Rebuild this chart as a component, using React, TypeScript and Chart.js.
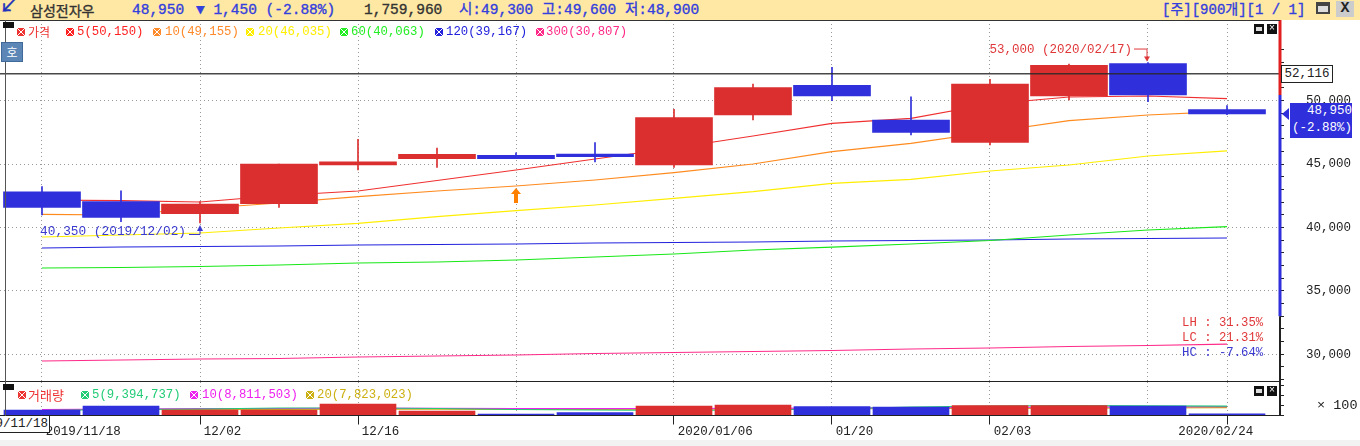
import React, { useEffect, useRef } from "react";
import { Chart, registerables } from "chart.js";

Chart.register(...registerables);

const MONO = '"Liberation Mono", "Noto Sans CJK KR", monospace';
const KR = '"Noto Sans CJK KR", "Liberation Mono", sans-serif';

const dates = ["2019/11/18", "", "12/02", "", "12/16", "", "", "", "2020/01/06", "", "01/20", "", "02/03", "", "", "2020/02/24"];
const gridIdx = [0, 2, 4, 6, 8, 10, 12, 14, 15];
const labelPad = [11, 0, 6, 0, 6, 0, 0, 0, 11, 0, 6, 0, 6, 0, 0, 0];
const labelPadEnd = [0, 0, 0, 0, 0, 0, 0, 0, 0, 0, 0, 0, 0, 0, 0, 1];
const priceTicks = [28000, 29000, 30000, 31000, 32000, 33000, 34000, 35000, 36000, 37000, 38000, 39000, 40000, 41000, 42000, 43000, 44000, 45000, 46000, 47000, 48000, 49000, 50000, 51000, 52000, 53000, 54000];
const volTicks = [0, 10000000, 20000000, 30000000];

const opens = [42818, 42030, 41084, 41872, 44923, 45420, 45688, 45794, 44923, 48865, 51206, 48470, 46712, 50362, 52924, 49300];
const closes = [41588, 40800, 41849, 45002, 45183, 45766, 45420, 45577, 48652, 51017, 50362, 47501, 51308, 52782, 50441, 48950];
const highs = [43213, 42897, 42030, 45002, 46949, 46263, 45892, 46681, 49314, 51308, 52625, 50307, 51679, 52885, 53000, 49600];
const lows = [40981, 40454, 40350, 41588, 44529, 44742, 45420, 45160, 44742, 48470, 49992, 47288, 46500, 50047, 49913, 48900];

const ma5 = [42164, 42109, 42006, 42519, 42873, 43701, 44529, 45396, 46263, 47209, 48210, 48604, 49732, 50284, 50362, 50150];
const ma10 = [41037, 40982, 41494, 41927, 42424, 42873, 43268, 43741, 44316, 45002, 45972, 46634, 47524, 48415, 48865, 49155];
const ma20 = [39247, 39405, 39563, 39957, 40327, 40847, 41321, 41770, 42298, 42818, 43480, 43795, 44450, 44923, 45633, 46035];
const ma60 = [36804, 36843, 36922, 37040, 37198, 37276, 37434, 37671, 37907, 38223, 38456, 38696, 38971, 39405, 39799, 40063];
const ma120 = [38380, 38459, 38498, 38538, 38616, 38656, 38696, 38774, 38813, 38853, 38932, 38971, 39011, 39090, 39129, 39167];
const ma300 = [29472, 29551, 29629, 29669, 29788, 29866, 29945, 30063, 30142, 30221, 30300, 30418, 30497, 30615, 30694, 30807];
const hline = 52116;

const volumes = [5500000, 9500000, 5500000, 5500000, 11500000, 4500000, 1500000, 3000000, 9500000, 10500000, 9000000, 8500000, 10000000, 10000000, 9500000, 1759960];
const vma5 = [5000000, 6000000, 6500000, 7500000, 7500000, 7000000, 6000000, 5500000, 5000000, 5500000, 6500000, 8500000, 9500000, 9800000, 9600000, 9394737];
const vma10 = [6000000, 6500000, 6800000, 7000000, 7300000, 7200000, 7000000, 6800000, 7000000, 7200000, 7500000, 7800000, 8000000, 8300000, 8600000, 8811503];
const vma20 = [6000000, 6000000, 6000000, 6100000, 6300000, 6400000, 6200000, 6000000, 6300000, 6500000, 6700000, 7000000, 7200000, 7400000, 7600000, 7823023];

const RED = "#db2e2e";
const BLUE = "#2f2fdb";
const X_MIN = -42 / 79;
const X_MAX = (1280 - 42) / 79;

const xy = (arr: number[]) => arr.map((y, x) => ({ x, y }));
const range = (a: number[], b: number[]) => a.map((v, x) => ({ x, y: [v, b[x]] }));
const upColor = (ctx: any) => (closes[ctx.dataIndex] >= opens[ctx.dataIndex] ? RED : BLUE);
const line = (label: string, data: number[], color: string, order = 5) => ({
  type: "line" as const, label, data: xy(data), borderColor: color, borderWidth: 1.2,
  pointRadius: 0, tension: 0, order,
});

const axisLine = {
  id: "axisLine",
  afterDraw(chart: any) {
    const c = chart.ctx, y = chart.scales.y, a = chart.chartArea;
    c.save();
    c.lineWidth = 3;
    c.strokeStyle = "#e02020";
    c.beginPath(); c.moveTo(a.right, a.top); c.lineTo(a.right, y.getPixelForValue(50440)); c.stroke();
    c.strokeStyle = "#2f2fdb";
    c.beginPath(); c.moveTo(a.right, y.getPixelForValue(50440)); c.lineTo(a.right, y.getPixelForValue(33000)); c.stroke();
    c.lineWidth = 1;
    c.strokeStyle = "#222";
    c.beginPath(); c.moveTo(a.right - 0.5, y.getPixelForValue(33000)); c.lineTo(a.right - 0.5, a.bottom); c.stroke();
    c.restore();
  },
};

const marks = {
  id: "marks",
  afterDraw(chart: any) {
    const c = chart.ctx, x = chart.scales.x, y = chart.scales.y;
    c.save();
    c.textBaseline = "middle";
    const lx = x.getPixelForValue(2), ly = y.getPixelForValue(lows[2]);
    c.fillStyle = "#3a3ad0"; c.strokeStyle = "#3a3ad0"; c.lineWidth = 1;
    c.textAlign = "right";
    c.font = `12.8px ${MONO}`;
    c.fillText("40,350 (2019/12/02)", lx - 14, ly + 9);
    c.beginPath(); c.moveTo(lx - 11, ly + 11.5); c.lineTo(lx, ly + 11.5); c.lineTo(lx, ly + 6); c.stroke();
    c.beginPath(); c.moveTo(lx, ly + 2); c.lineTo(lx + 3, ly + 8); c.lineTo(lx - 3, ly + 8); c.fill();
    const hx = x.getPixelForValue(14), hy = y.getPixelForValue(highs[14]);
    c.fillStyle = "#e0383a"; c.strokeStyle = "#e0383a";
    c.font = `12.5px ${MONO}`;
    c.fillText("53,000 (2020/02/17)", hx - 16, hy - 13);
    c.beginPath(); c.moveTo(hx - 14, hy - 13.5); c.lineTo(hx - 1, hy - 13.5); c.lineTo(hx - 1, hy - 5); c.stroke();
    c.beginPath(); c.moveTo(hx - 1, hy - 1); c.lineTo(hx + 2, hy - 6); c.lineTo(hx - 4, hy - 6); c.fill();
    const ax = x.getPixelForValue(6), ay = y.getPixelForValue(ma10[6]);
    c.fillStyle = "#ff8000";
    c.beginPath();
    c.moveTo(ax, ay + 2); c.lineTo(ax + 5, ay + 8); c.lineTo(ax + 2, ay + 8); c.lineTo(ax + 2, ay + 17);
    c.lineTo(ax - 2, ay + 17); c.lineTo(ax - 2, ay + 8); c.lineTo(ax - 5, ay + 8); c.closePath(); c.fill();
    c.restore();
  },
};

const xScale = (showLabels: boolean) => ({
  type: "linear" as const,
  min: X_MIN,
  max: X_MAX,
  bounds: "data",
  offset: false,
  afterBuildTicks(s: any) { s.ticks = gridIdx.map((value) => ({ value })); },
  afterFit(s: any) {
    s.paddingLeft = 0; s.paddingRight = 0;
    if (showLabels) s.height = 24.5;
  },
  grid: {
    offset: false,
    drawTicks: showLabels,
    tickLength: 9,
    color: "#999",
    tickColor: (ctx: any) => (dates[ctx.tick?.value] ? "#222" : "rgba(0,0,0,0)"),
  },
  border: { color: "#222", width: 1, dash: [1, 3] },
  ticks: {
    display: showLabels,
    autoSkip: false,
    maxRotation: 0,
    padding: 0,
    color: "#222",
    font: { family: MONO, size: 12.5 },
    callback: (v: any) => (dates[v] ? " ".repeat(labelPad[v]) + dates[v] + " ".repeat(labelPadEnd[v] * 3) : ""),
  },
});

function Box({ x, y, c }: { x: number; y: number; c: string }) {
  return (
    <span style={{
      position: "absolute", left: x, top: y, width: 8, height: 8, backgroundColor: c,
      backgroundImage: "linear-gradient(45deg,transparent 44%,#fff 44%,#fff 56%,transparent 56%),linear-gradient(-45deg,transparent 44%,#fff 44%,#fff 56%,transparent 56%)",
    }} />
  );
}
function T({ x, y, c, s = 12.3, f = MONO, children, heavy }: any) {
  return (
    <span style={{
      position: "absolute", left: x, top: y, color: c, fontSize: s, fontFamily: f,
      lineHeight: "16px", whiteSpace: "pre", WebkitTextStroke: heavy ? "0.35px" : undefined,
    }}>{children}</span>
  );
}
function Btn({ x, y }: { x: number; y: number }) {
  return (
    <>
      <span style={{ position: "absolute", left: x, top: y, width: 10, height: 10, background: "#111" }}>
        <span style={{ position: "absolute", left: 2, top: 3, width: 6, height: 4, background: "#ddd" }} />
      </span>
      <span style={{ position: "absolute", left: x + 13, top: y, width: 10, height: 10, background: "#111", color: "#fff", fontSize: 10, lineHeight: "10px", textAlign: "center", fontFamily: MONO }}>×</span>
    </>
  );
}

const legendTop = [
  { bx: 17, tx: 28, c: "#e33", t: "가격", f: KR },
  { bx: 66, tx: 77, c: "#f22", t: "5(50,150)" },
  { bx: 153, tx: 165, c: "#ff8a2a", t: "10(49,155)" },
  { bx: 246, tx: 258, c: "#ffee00", t: "20(46,035)" },
  { bx: 340, tx: 351, c: "#22ee22", t: "60(40,063)" },
  { bx: 435, tx: 446, c: "#2222dd", t: "120(39,167)" },
  { bx: 536, tx: 546, c: "#ff2a88", t: "300(30,807)" },
];
const legendVol = [
  { bx: 18, tx: 28, c: "#e33", t: "거래량", f: KR },
  { bx: 81, tx: 92, c: "#22cc77", t: "5(9,394,737)" },
  { bx: 190, tx: 202, c: "#ee22ee", t: "10(8,811,503)" },
  { bx: 306, tx: 317, c: "#ccb011", t: "20(7,823,023)" },
];

export default function App() {
  const priceRef = useRef<HTMLCanvasElement>(null);
  const volRef = useRef<HTMLCanvasElement>(null);

  useEffect(() => {
    const price = new Chart(priceRef.current!, {
      type: "bar",
      plugins: [axisLine, marks],
      data: {
        datasets: [
          line("5", ma5, "#f03030"),
          line("10", ma10, "#ff8a1e"),
          line("20", ma20, "#ffee00"),
          line("60", ma60, "#18e818"),
          line("120", ma120, "#2222dd"),
          line("300", ma300, "#ff2a88"),
          { type: "line" as const, label: "52,116", data: [{ x: X_MIN, y: hline }, { x: X_MAX, y: hline }], borderColor: "rgba(40,40,40,0.85)", borderWidth: 1.3, pointRadius: 0, order: 1 },
          { label: "wick", data: range(lows, highs), backgroundColor: upColor, barThickness: 1, grouped: false, order: 3 },
          { label: "body", data: range(opens, closes), backgroundColor: upColor, barThickness: 77, grouped: false, order: 2 },
        ] as any,
      },
      options: {
        animation: false, responsive: false, devicePixelRatio: 1,
        layout: { padding: 0 },
        plugins: { legend: { display: false }, tooltip: { enabled: false } },
        scales: {
          x: xScale(false),
          y: {
            position: "right", min: 27817, max: 56354, bounds: "data",
            afterBuildTicks(s: any) { s.ticks = priceTicks.map((value) => ({ value })); },
            afterFit(s: any) { s.width = 80; s.paddingTop = 0; s.paddingBottom = 0; },
            grid: {
              color: (ctx: any) => (ctx.tick.value % 5000 === 0 ? "#999" : "rgba(0,0,0,0)"),
              tickColor: "#222", tickLength: 4, tickBorderDash: [],
            },
            border: { color: "#222", dash: [1, 3] },
            ticks: {
              autoSkip: false, color: "#222", padding: 22,
              font: { family: MONO, size: 12.5 },
              callback: (v: any) => (v % 5000 === 0 ? v.toLocaleString("en-US") : ""),
            },
          },
        },
      } as any,
    });

    const vol = new Chart(volRef.current!, {
      type: "bar",
      data: {
        datasets: [
          line("v5", vma5, "#22cc77"),
          line("v10", vma10, "#ee22ee"),
          line("v20", vma20, "#ccb011"),
          { label: "volume", data: xy(volumes), backgroundColor: upColor, barThickness: 76, grouped: false, order: 1 },
        ] as any,
      },
      options: {
        animation: false, responsive: false, devicePixelRatio: 1,
        layout: { padding: 0 },
        plugins: { legend: { display: false }, tooltip: { enabled: false } },
        scales: {
          x: xScale(true),
          y: {
            position: "right", min: 0, max: 33500000, bounds: "data",
            afterBuildTicks(s: any) { s.ticks = volTicks.map((value) => ({ value })); },
            afterFit(s: any) { s.width = 80; s.paddingTop = 0; s.paddingBottom = 0; },
            grid: { color: "rgba(0,0,0,0)", tickColor: "#222", tickLength: 4 },
            border: { color: "#222" },
            ticks: {
              autoSkip: false, color: "#222", padding: 33,
              font: { family: MONO, size: 13.5 },
              callback: (v: any) => (v === 10000000 ? "× 100" : ""),
            },
          },
        },
      } as any,
    });

    return () => { price.destroy(); vol.destroy(); };
  }, []);

  return (
    <div style={{ position: "absolute", left: 0, top: 0, width: 1360, height: 446, overflow: "hidden", background: "#fff" }}>
      <div style={{ position: "absolute", left: 0, top: 0, width: 1360, height: 20, background: "#ffe8a3" }} />
      <T x={-1} y={-1} c="#2233bb" s={22} heavy>↙</T>
      <T x={30} y={2} c="#333" s={14} f={KR} heavy>삼성전자우</T>
      <T x={132} y={2} c="#3340dd" s={14.5} heavy>48,950</T>
      <T x={196} y={2} c="#3340dd" s={14.5} heavy>▼ 1,450 (-2.88%)</T>
      <T x={364} y={2} c="#333" s={14.5} heavy>1,759,960</T>
      <T x={459} y={2} c="#3340dd" s={14.5} heavy>시:49,300 고:49,600 저:48,900</T>
      <T x={1162} y={2} c="#3340dd" s={14} heavy>[주][900개][1 / 1]</T>
      <span style={{ position: "absolute", left: 1316, top: 2, width: 14, height: 12, border: "2px solid #444", borderTopWidth: 4, background: "#ddd", boxSizing: "border-box" }} />
      <span style={{ position: "absolute", left: 1336, top: 1, width: 18, height: 16, background: "#ccc", color: "#222", fontSize: 15, lineHeight: "16px", textAlign: "center", fontFamily: MONO, fontWeight: 700 }}>X</span>

      <canvas ref={priceRef} width={1360} height={362} style={{ position: "absolute", left: 0, top: 20, width: 1360, height: 362 }} />
      <canvas ref={volRef} width={1360} height={58} style={{ position: "absolute", left: 0, top: 382, width: 1360, height: 58 }} />
      <div style={{ position: "absolute", left: 0, top: 440, width: 1360, height: 6, background: "#f2f2f2" }} />

      <div style={{ position: "absolute", left: 0, top: 20, width: 1280, height: 1, background: "#333" }} />
      <div style={{ position: "absolute", left: 0, top: 381, width: 1280, height: 1, background: "#222" }} />
      <div style={{ position: "absolute", left: 0, top: 415, width: 1280, height: 1, background: "#222" }} />
      <div style={{ position: "absolute", left: 5, top: 20, width: 1, height: 398, background: "#555" }} />
      <div style={{ position: "absolute", left: 1279, top: 382, width: 1, height: 34, background: "#222" }} />

      {legendTop.map((l) => (
        <React.Fragment key={l.t}>
          <Box x={l.bx} y={28} c={l.c} />
          <T x={l.tx} y={24} c={l.c} f={l.f ?? MONO} s={l.f ? 12 : 12.3}>{l.t}</T>
        </React.Fragment>
      ))}
      {legendVol.map((l) => (
        <React.Fragment key={l.t}>
          <Box x={l.bx} y={391} c={l.c} />
          <T x={l.tx} y={387} c={l.c} f={l.f ?? MONO} s={l.f ? 13 : 12.3}>{l.t}</T>
        </React.Fragment>
      ))}

      <span style={{ position: "absolute", left: 3, top: 22, width: 11, height: 6, background: "#111" }} />
      <span style={{ position: "absolute", left: 3, top: 384, width: 11, height: 6, background: "#111" }} />
      <span style={{ position: "absolute", left: 1, top: 42, width: 22, height: 20, background: "#5b86b5", border: "1px solid #3f6a99", boxSizing: "border-box", color: "#fff", fontSize: 12, lineHeight: "17px", textAlign: "center", fontFamily: KR }}>호</span>
      <Btn x={1254} y={24} />
      <Btn x={1254} y={386} />

      <T x={1182} y={315} c="#e0383a">LH : 31.35%</T>
      <T x={1182} y={330} c="#e0383a">LC : 21.31%</T>
      <T x={1182} y={345} c="#3a3ad0">HC : -7.64%</T>

      <span style={{ position: "absolute", left: 1281, top: 65, width: 52, height: 18, border: "1px solid #222", boxSizing: "border-box", background: "#fff", color: "#222", fontFamily: MONO, fontSize: 12.5, lineHeight: "16px", textAlign: "center" }}>52,116</span>
      <span style={{ position: "absolute", left: 1290, top: 103, width: 62, height: 34.5, background: "#2f2fdb", color: "#fff", fontFamily: MONO, fontSize: 12.5, lineHeight: "17px", textAlign: "right", whiteSpace: "pre" }}>{"48,950\n(-2.88%)"}</span>
      <span style={{ position: "absolute", left: 1282, top: 108, width: 0, height: 0, borderTop: "6px solid transparent", borderBottom: "6px solid transparent", borderRight: "7px solid #2f2fdb" }} />

      <div style={{ position: "absolute", left: 0, top: 416, width: 50, height: 17, overflow: "hidden", background: "#fff", borderBottom: "1px solid #222", borderRight: "1px solid #222", boxSizing: "border-box" }}>
        <span style={{ position: "absolute", right: 1, top: 0, color: "#222", fontFamily: MONO, fontSize: 12.5, lineHeight: "16px" }}>2019/11/18</span>
      </div>
    </div>
  );
}
